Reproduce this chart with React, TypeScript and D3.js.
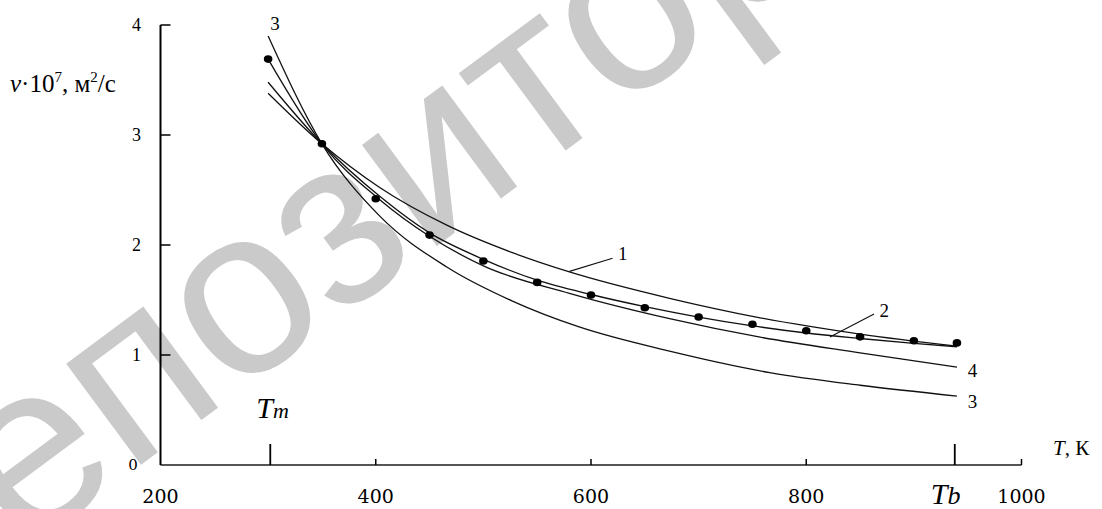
import React from "react";
import * as d3 from "d3";

// experimental points
const dotT = [300, 350, 400, 450, 500, 550, 600, 650, 700, 750, 800, 850, 900, 940];
const dotV = [3.69, 2.92, 2.42, 2.09, 1.855, 1.66, 1.545, 1.43, 1.345, 1.28, 1.22, 1.165, 1.13, 1.11];

// calculated curves
const curve1T = [300, 350, 404, 466, 527, 580, 673, 756, 850, 940];
const curve1V = [3.38, 2.92, 2.52, 2.18, 1.93, 1.755, 1.515, 1.34, 1.19, 1.08];
const curve2T = [300, 350, 404, 450, 500, 550, 600, 650, 700, 750, 800, 850, 900, 940];
const curve2V = [3.48, 2.92, 2.44, 2.11, 1.87, 1.68, 1.55, 1.44, 1.345, 1.265, 1.2, 1.15, 1.105, 1.075];
const curve3T = [300, 350, 404, 466, 527, 589, 673, 766, 850, 940];
const curve3V = [3.9, 2.92, 2.26, 1.8, 1.49, 1.255, 1.035, 0.84, 0.725, 0.627];
const curve4T = [300, 350, 404, 450, 500, 580, 673, 756, 850, 940];
const curve4V = [3.69, 2.92, 2.41, 2.08, 1.81, 1.56, 1.33, 1.164, 1.02, 0.89];

const xTicks = [200, 400, 600, 800, 1000];
const yTicks = [1, 2, 3, 4];
const Tm = 302;
const Tb = 938;

// curve labels: [T, v, text]
const curveLabels: [number, number, string][] = [
  [302, 3.955, "3"],
  [625, 1.864, "1"],
  [868, 1.345, "2"],
  [950, 0.8, "4"],
  [950, 0.518, "3"],
];
const leaders: [number, number, number, number][] = [
  [580, 1.76, 620, 1.88],
  [822, 1.164, 863, 1.373],
];

const W = 1102;
const H = 509;
const serif = "'Liberation Serif', 'Times New Roman', serif";
const wideSerif = "'DejaVu Serif', serif";

export default function App() {
  const x = d3.scaleLinear().domain([200, 1000]).range([160.5, 1021.5]);
  const y = d3.scaleLinear().domain([0, 4]).range([465, 25]);

  const line = d3
    .line<[number, number]>()
    .x((d) => x(d[0]))
    .y((d) => y(d[1]))
    .curve(d3.curveMonotoneX);

  const curves = [
    d3.zip(curve1T, curve1V),
    d3.zip(curve2T, curve2V),
    d3.zip(curve3T, curve3V),
    d3.zip(curve4T, curve4V),
  ] as [number, number][][];

  return (
    <svg
      width={W}
      height={H}
      style={{ position: "absolute", left: 0, top: 0, display: "block", background: "#fff" }}
      fontFamily={serif}
    >
      {/* watermark */}
      <text
        transform="translate(-85,632) rotate(-36.5)"
        fontFamily="'Liberation Sans', Arial, sans-serif"
        fontSize={238}
        fill="#cacaca"
      >
        репозиторий
      </text>

      {/* axes */}
      <line x1={x(200)} x2={x(1000)} y1={y(0)} y2={y(0)} stroke="#555" strokeWidth={2} />
      <line x1={x(200)} x2={x(200)} y1={y(0)} y2={y(4)} stroke="#000" strokeWidth={2} />
      {yTicks.map((t) => (
        <g key={"y" + t}>
          <line x1={x(200)} x2={x(200) + 10} y1={y(t)} y2={y(t)} stroke="#000" strokeWidth={1.5} />
          <text x={141} y={y(t) + 6} fontSize={18} textAnchor="end">
            {t}
          </text>
        </g>
      ))}
      <text x={133} y={y(0) + 5} fontSize={15} fontFamily={wideSerif} textAnchor="middle">
        0
      </text>
      {xTicks.map((t) => (
        <g key={"x" + t}>
          {t > 200 && (
            <line x1={x(t)} x2={x(t)} y1={y(0)} y2={y(0) - 6} stroke="#000" strokeWidth={1.5} />
          )}
          <text x={x(t)} y={503} fontSize={19} fontFamily={wideSerif} textAnchor="middle">
            {t}
          </text>
        </g>
      ))}
      <line x1={x(Tm)} x2={x(Tm)} y1={y(0)} y2={y(0) - 21} stroke="#000" strokeWidth={1.8} />
      <line x1={x(Tb)} x2={x(Tb)} y1={y(0)} y2={y(0) - 21} stroke="#000" strokeWidth={1.8} />

      <text x={x(Tm) - 14} y={418} fontStyle="italic">
        <tspan fontSize={30}>T</tspan>
        <tspan fontSize={22}>m</tspan>
      </text>
      <text x={x(Tb) - 24} y={504} fontStyle="italic">
        <tspan fontSize={30}>T</tspan>
        <tspan fontSize={26}>b</tspan>
      </text>

      <text x={1053} y={455} fontSize={21}>
        <tspan fontStyle="italic">T</tspan>
        <tspan>, К</tspan>
      </text>
      <text x={10} y={92} fontSize={25}>
        <tspan fontStyle="italic">ν</tspan>
        <tspan>·10</tspan>
        <tspan fontSize={15} dy={-10}>7</tspan>
        <tspan dy={10}>, м</tspan>
        <tspan fontSize={15} dy={-10}>2</tspan>
        <tspan dy={10}>/с</tspan>
      </text>

      {/* curves */}
      {curves.map((c, i) => (
        <path key={"c" + i} d={line(c) ?? ""} fill="none" stroke="#111" strokeWidth={1.3} />
      ))}
      {leaders.map((l, i) => (
        <line
          key={"l" + i}
          x1={x(l[0])}
          y1={y(l[1])}
          x2={x(l[2])}
          y2={y(l[3])}
          stroke="#111"
          strokeWidth={1.1}
        />
      ))}
      {curveLabels.map((l, i) => (
        <text key={"t" + i} x={x(l[0])} y={y(l[1])} fontSize={19}>
          {l[2]}
        </text>
      ))}

      {/* points */}
      {dotT.map((t, i) => (
        <ellipse key={"d" + i} cx={x(t)} cy={y(dotV[i])} rx={4.3} ry={3.8} fill="#000" />
      ))}
    </svg>
  );
}
